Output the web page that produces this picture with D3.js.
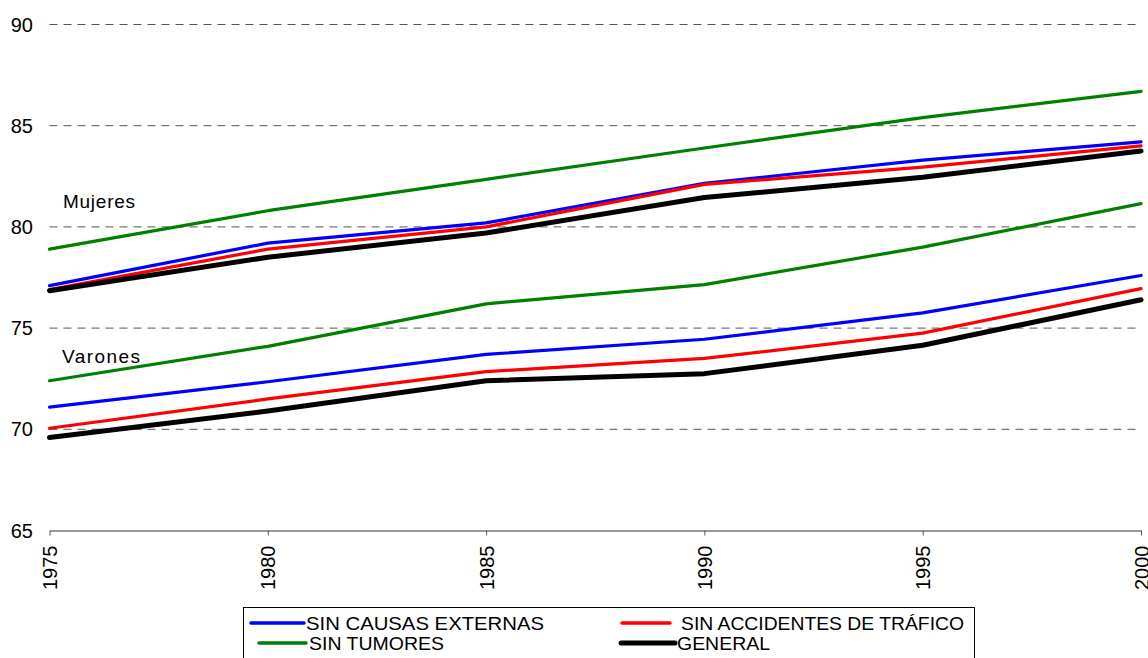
<!DOCTYPE html>
<html>
<head>
<meta charset="utf-8">
<script src="https://cdn.jsdelivr.net/npm/d3@7"></script>
<style>
  body { margin: 0; background: #fff; }
  svg { font-family: "Liberation Sans", Arial, sans-serif; }
</style>
</head>
<body>
<div id="chart"></div>
<script>
// years on the x axis
const years = [1975, 1980, 1985, 1990, 1995, 2000];
const yTicks = [65, 70, 75, 80, 85, 90];

// Mujeres
const mujSinTumores = [78.9, 80.8, 82.35, 83.9, 85.4, 86.7];
const mujSinExternas = [77.1, 79.2, 80.2, 82.15, 83.3, 84.2];
const mujSinTrafico = [76.9, 78.9, 80.0, 82.1, 82.95, 84.0];
const mujGeneral = [76.85, 78.5, 79.7, 81.45, 82.45, 83.75];

// Varones
const varSinTumores = [72.4, 74.1, 76.2, 77.15, 79.0, 81.15];
const varSinExternas = [71.1, 72.35, 73.7, 74.45, 75.75, 77.6];
const varSinTrafico = [70.05, 71.5, 72.85, 73.5, 74.75, 76.95];
const varGeneral = [69.6, 70.9, 72.4, 72.75, 74.15, 76.4];

const width = 1148, height = 658;

const svg = d3.select("#chart").append("svg")
  .attr("width", width)
  .attr("height", height);

const x = d3.scaleLinear().domain([1975, 2000]).range([49.5, 1141]);
const y = d3.scaleLinear().domain([65, 90]).range([530.5, 24.5]);

// dashed gridlines
svg.selectAll(".grid")
  .data(yTicks.filter(d => d > 65))
  .enter().append("line")
  .attr("x1", x(1975)).attr("x2", x(2000))
  .attr("y1", d => y(d)).attr("y2", d => y(d))
  .attr("stroke", "#555")
  .attr("stroke-width", 1)
  .attr("stroke-dasharray", "8,6");

// y labels (no axis line)
svg.selectAll(".ylab")
  .data(yTicks)
  .enter().append("text")
  .attr("x", 33).attr("y", d => y(d) + 7)
  .attr("text-anchor", "end")
  .attr("font-size", 20)
  .attr("fill", "#000")
  .text(d => d);

// x axis
const xAxis = svg.append("g")
  .attr("transform", `translate(0,${y(65)})`)
  .call(d3.axisBottom(x).tickValues(years).tickFormat(d3.format("d")).tickSize(5).tickSizeOuter(0));
xAxis.select(".domain").attr("stroke", "#777").attr("stroke-width", 1.5);
xAxis.selectAll(".tick line").attr("stroke", "#555");
xAxis.selectAll("text")
  .attr("font-size", 20)
  .attr("fill", "#000")
  .attr("font-family", "Liberation Sans, Arial, sans-serif")
  .attr("transform", "rotate(-90)")
  .attr("text-anchor", "end")
  .attr("dy", "0.35em")
  .attr("x", -15)
  .attr("y", 0);

const line = d3.line()
  .x((d, i) => x(years[i]))
  .y(d => y(d));

const series = [
  { values: mujSinTumores, color: "#008000", w: 3.2 },
  { values: varSinTumores, color: "#008000", w: 3.2 },
  { values: mujSinExternas, color: "#0000ff", w: 3.2 },
  { values: varSinExternas, color: "#0000ff", w: 3.2 },
  { values: mujSinTrafico, color: "#ff0000", w: 3.2 },
  { values: varSinTrafico, color: "#ff0000", w: 3.2 },
  { values: mujGeneral, color: "#000000", w: 5 },
  { values: varGeneral, color: "#000000", w: 5 }
];

svg.selectAll(".series")
  .data(series)
  .enter().append("path")
  .attr("d", d => line(d.values))
  .attr("fill", "none")
  .attr("stroke", d => d.color)
  .attr("stroke-width", d => d.w)
  .attr("stroke-linecap", "round")
  .attr("stroke-linejoin", "round");

// group labels
svg.append("text").attr("x", 63).attr("y", 208).attr("font-size", 19)
  .attr("textLength", 72).attr("lengthAdjust", "spacing").text("Mujeres");
svg.append("text").attr("x", 62).attr("y", 363).attr("font-size", 19)
  .attr("textLength", 78).attr("lengthAdjust", "spacing").text("Varones");

// legend
const legend = svg.append("g");
legend.append("rect")
  .attr("x", 243.5).attr("y", 607.5)
  .attr("width", 731).attr("height", 60)
  .attr("fill", "#fff").attr("stroke", "#000").attr("stroke-width", 1);

const legendItems = [
  { label: "SIN CAUSAS EXTERNAS", color: "#0000ff", w: 3.5, x1: 251, x2: 304, tx: 306, tl: 238, ty: 623 },
  { label: "SIN ACCIDENTES DE TRÁFICO", color: "#ff0000", w: 3.5, x1: 622, x2: 670, tx: 681, tl: 283, ty: 623 },
  { label: "SIN TUMORES", color: "#008000", w: 3.5, x1: 259, x2: 306, tx: 309, tl: 135, ty: 643 },
  { label: "GENERAL", color: "#000000", w: 5, x1: 621, x2: 675, tx: 677, tl: 93, ty: 643 }
];

legendItems.forEach(d => {
  legend.append("line")
    .attr("x1", d.x1).attr("x2", d.x2)
    .attr("y1", d.ty).attr("y2", d.ty)
    .attr("stroke", d.color).attr("stroke-width", d.w)
    .attr("stroke-linecap", "round");
  legend.append("text")
    .attr("x", d.tx).attr("y", d.ty + 7)
    .attr("font-size", 19)
    .attr("textLength", d.tl)
    .attr("lengthAdjust", "spacingAndGlyphs")
    .text(d.label);
});
</script>
</body>
</html>
